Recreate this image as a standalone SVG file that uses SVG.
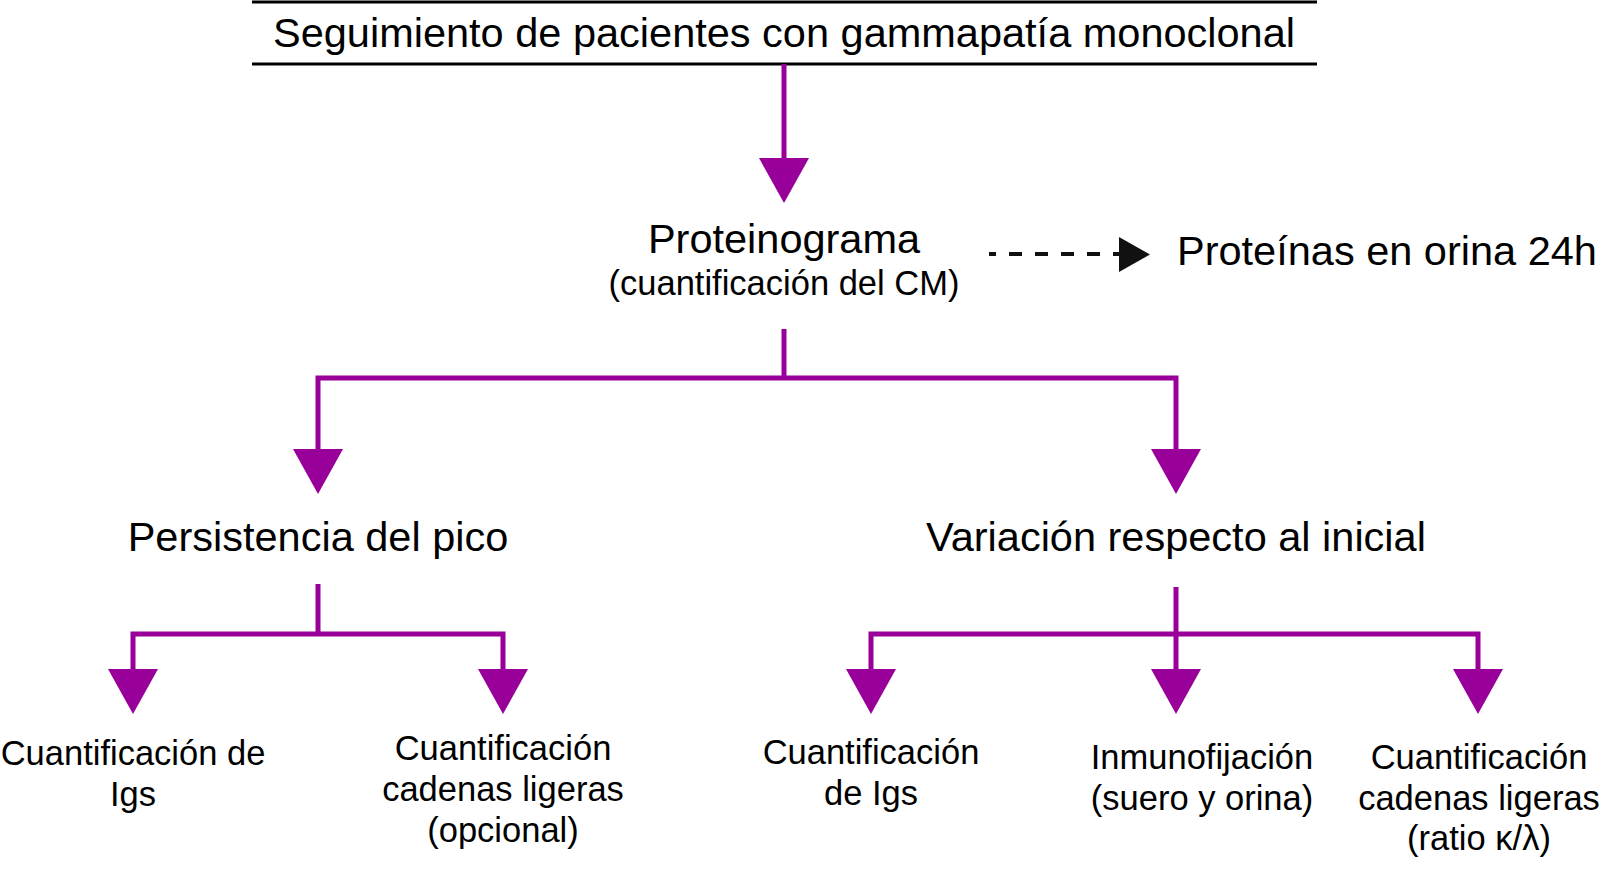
<svg xmlns="http://www.w3.org/2000/svg" width="1601" height="869" viewBox="0 0 1601 869">
<style>
text{font-family:"Liberation Sans",Arial,Helvetica,sans-serif;fill:#000;text-anchor:middle}
.big{font-size:41.5px}
.mid{font-size:34.5px}
.small{font-size:34.5px}
.conn{stroke:#990099;stroke-width:5;fill:none}
.head{fill:#990099;stroke:none}
.rule{stroke:#000;stroke-width:3}
</style>
<defs>
<polygon id="ah" points="-25,0 25,0 0,45" class="head"/>
</defs>
<rect width="1601" height="869" fill="#fff"/>

<g id="title">
<line class="rule" x1="252" y1="2" x2="1317" y2="2"/>
<line class="rule" x1="252" y1="64" x2="1317" y2="64"/>
<text class="big" x="784" y="47">Seguimiento de pacientes con gammapatía monoclonal</text>
</g>

<g id="proteinograma">
<text class="big" x="784" y="253">Proteinograma</text>
<text class="mid" x="784" y="295">(cuantificación del CM)</text>
</g>

<g id="orina">
<text class="big" x="1177" y="265" style="text-anchor:start">Proteínas en orina 24h</text>
</g>

<g id="persistencia">
<text class="big" x="318" y="551">Persistencia del pico</text>
</g>

<g id="variacion">
<text class="big" x="1176" y="551">Variación respecto al inicial</text>
</g>

<g id="p-igs">
<text class="small" x="133" y="765">Cuantificación de</text>
<text class="small" x="133" y="806">Igs</text>
</g>

<g id="p-cadenas">
<text class="small" x="503" y="760">Cuantificación</text>
<text class="small" x="503" y="801">cadenas ligeras</text>
<text class="small" x="503" y="842">(opcional)</text>
</g>

<g id="v-igs">
<text class="small" x="871" y="764">Cuantificación</text>
<text class="small" x="871" y="805">de Igs</text>
</g>

<g id="v-inmuno">
<text class="small" x="1202" y="769">Inmunofijación</text>
<text class="small" x="1202" y="810">(suero y orina)</text>
</g>

<g id="v-cadenas">
<text class="small" x="1479" y="769">Cuantificación</text>
<text class="small" x="1479" y="810">cadenas ligeras</text>
<text class="small" x="1479" y="850">(ratio κ/λ)</text>
</g>

<g id="connectors">
<line class="conn" x1="784" y1="64" x2="784" y2="162"/>
<use href="#ah" x="784" y="158"/>

<line x1="989" y1="254" x2="1119" y2="254" stroke="#111" stroke-width="4" stroke-dasharray="13 13" stroke-dashoffset="6"/>
<polygon points="1119,237 1150,254.5 1119,272" fill="#111"/>

<path class="conn" d="M784 329 V378 M318 452 V378 H1176 V452"/>
<use href="#ah" x="318" y="449"/>
<use href="#ah" x="1176" y="449"/>

<path class="conn" d="M318 584 V634 M133 672 V634 H503 V672"/>
<use href="#ah" x="133" y="669"/>
<use href="#ah" x="503" y="669"/>

<path class="conn" d="M1176 587 V672 M871 672 V634 H1478 V672"/>
<use href="#ah" x="871" y="669"/>
<use href="#ah" x="1176" y="669"/>
<use href="#ah" x="1478" y="669"/>
</g>
</svg>
